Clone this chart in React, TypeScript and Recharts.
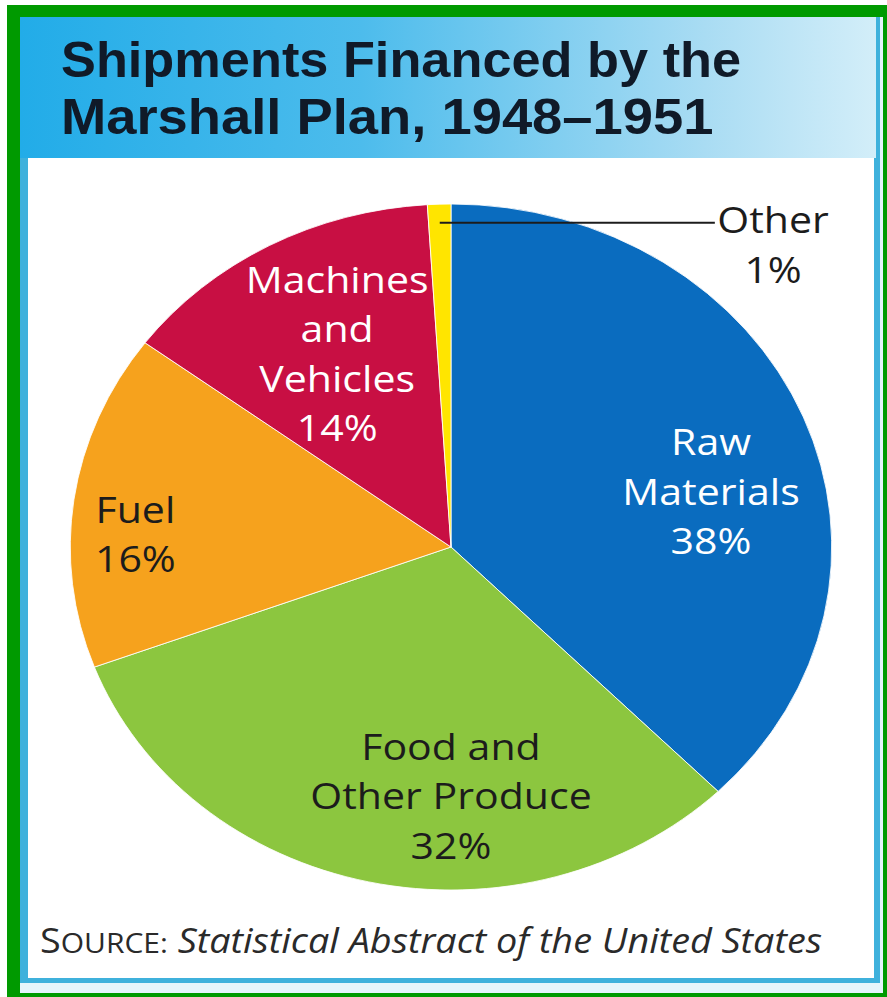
import React, { useLayoutEffect, useRef, useState } from 'react';
import { PieChart, Pie, Cell } from 'recharts';

// shipment categories and their share of the total (percent)
const CATEGORIES = ['Raw Materials', 'Food and Other Produce', 'Fuel', 'Machines and Vehicles', 'Other'];
const SHARES = [38, 32, 16, 14, 1];
const NAME_LINES = [['Raw', 'Materials'], ['Food and', 'Other Produce'], ['Fuel'], ['Machines', 'and', 'Vehicles'], ['Other']];

const TITLE_LINES = ['Shipments Financed by the', 'Marshall Plan, 1948\u20131951'];
const SOURCE_LABEL = 'Statistical Abstract of the United States';

const COLORS = ['#0a6cbf', '#8cc63f', '#f6a21d', '#c80f43', '#ffe500'];
const TEXT_COLORS = ['#ffffff', '#1c1c1c', '#1c1c1c', '#ffffff', '#1c1c1c'];

// label anchor, as a fraction of the radius from the centre (first baseline)
const LABEL_LAYOUT = [
  { fx: 0.683, fy: -0.268 },
  { fx: 0.0, fy: 0.621 },
  { fx: -0.829, fy: -0.07 },
  { fx: -0.299, fy: -0.741 },
  { fx: 0.846, fy: -0.915 },
];

const W = 887;
const H = 997;
const CX = 451;
const CY = 547;
const R = 343;
const STRETCH = 1.11; // the original graphic is stretched horizontally
const LINE_H = 49.5;
const RAD = Math.PI / 180;

const data = CATEGORIES.map((name, i) => ({ name, value: SHARES[i] }));

const renderLabel = (props: any) => {
  const index = props.index;
  const cx = typeof props.cx === 'number' ? props.cx : CX;
  const cy = typeof props.cy === 'number' ? props.cy : CY;
  const r = typeof props.outerRadius === 'number' ? props.outerRadius : R;
  const lay = LABEL_LAYOUT[index];
  const x = cx + r * lay.fx;
  const y0 = cy + r * lay.fy;
  const lines = [...NAME_LINES[index], `${SHARES[index]}%`];
  let leader = null;
  if (index === CATEGORIES.length - 1) {
    const ly = cy - r * 0.945;
    const lx = cx + Math.cos(-props.midAngle * RAD) * r * 0.95;
    leader = <line x1={lx} y1={ly} x2={cx + r * 0.693} y2={ly} stroke="#1c1c1c" strokeWidth={2} />;
  }
  return (
    <g key={`lbl-${index}`}>
      {leader}
      <text
        x={x}
        y={y0}
        textAnchor="middle"
        fill={TEXT_COLORS[index]}
        fontFamily="'Open Sans', sans-serif"
        fontSize={37}
      >
        {lines.map((t, k) => (
          <tspan key={k} x={x} y={y0 + k * LINE_H}>
            {t}
          </tspan>
        ))}
      </text>
    </g>
  );
};

// one title line, squeezed horizontally to the width it has in the original
function TitleLine({ text, left, top, width }: { text: string; left: number; top: number; width: number }) {
  const ref = useRef<HTMLSpanElement>(null);
  const [sx, setSx] = useState(1);
  useLayoutEffect(() => {
    const fit = () => {
      if (ref.current && ref.current.offsetWidth > 0) setSx(width / ref.current.offsetWidth);
    };
    fit();
    if ((document as any).fonts) (document as any).fonts.ready.then(fit);
  }, [width]);
  return (
    <span
      ref={ref}
      style={{
        position: 'absolute',
        left,
        top,
        height: 55,
        lineHeight: '55px',
        fontFamily: "'Liberation Sans', Arial, sans-serif",
        fontWeight: 700,
        fontSize: 50,
        color: '#101a28',
        whiteSpace: 'nowrap',
        transform: `scaleX(${sx})`,
        transformOrigin: '0 0',
      }}
    >
      {text}
    </span>
  );
}

export default function App() {
  return (
    <div style={{ position: 'absolute', left: 0, top: 0, width: W, height: H, overflow: 'hidden', background: '#ffffff' }}>
      {/* frame */}
      <div style={{ position: 'absolute', left: 7, top: 5, width: 880, height: 992, background: '#009a00' }} />
      <div style={{ position: 'absolute', left: 20, top: 17, width: 863, height: 976, background: '#e6f5fb' }} />
      <div style={{ position: 'absolute', left: 20, top: 17, width: 860, height: 966, background: '#3fb1dc' }} />
      <div
        style={{
          position: 'absolute',
          left: 20,
          top: 17,
          width: 856,
          height: 141,
          background: 'linear-gradient(90deg, #22ace8 0%, #4dbcec 40%, #a9dcf3 80%, #d3eef9 100%)',
        }}
      />
      <div style={{ position: 'absolute', left: 28, top: 158, width: 846, height: 820, background: '#ffffff' }} />

      {/* pie */}
      <div
        style={{
          position: 'absolute',
          left: 0,
          top: 0,
          width: W,
          height: H,
          transform: `scaleX(${STRETCH})`,
          transformOrigin: `${CX}px ${CY}px`,
        }}
      >
        <PieChart width={W} height={H} margin={{ top: 0, right: 0, bottom: 0, left: 0 }}>
          <Pie
            data={data}
            dataKey="value"
            nameKey="name"
            cx={CX}
            cy={CY}
            outerRadius={R}
            startAngle={90}
            endAngle={-270}
            stroke="#ffffff"
            strokeWidth={0.8}
            label={renderLabel}
            labelLine={false}
            isAnimationActive={false}
          >
            {data.map((d, i) => (
              <Cell key={d.name} fill={COLORS[i]} />
            ))}
          </Pie>
        </PieChart>
      </div>

      {/* title */}
      <TitleLine text={TITLE_LINES[0]} left={61} top={33} width={680} />
      <TitleLine text={TITLE_LINES[1]} left={61} top={90} width={652} />

      {/* source */}
      <svg width={W} height={H} style={{ position: 'absolute', left: 0, top: 0, pointerEvents: 'none' }}>
        <text
          x={40}
          y={953}
          fontFamily="'Open Sans', sans-serif"
          fill="#2a2a2a"
          textLength={782}
          lengthAdjust="spacingAndGlyphs"
        >
          <tspan fontSize={34}>S</tspan>
          <tspan fontSize={27}>OURCE:</tspan>
          <tspan fontSize={34} fontStyle="italic">{' ' + SOURCE_LABEL}</tspan>
        </text>
      </svg>
    </div>
  );
}
